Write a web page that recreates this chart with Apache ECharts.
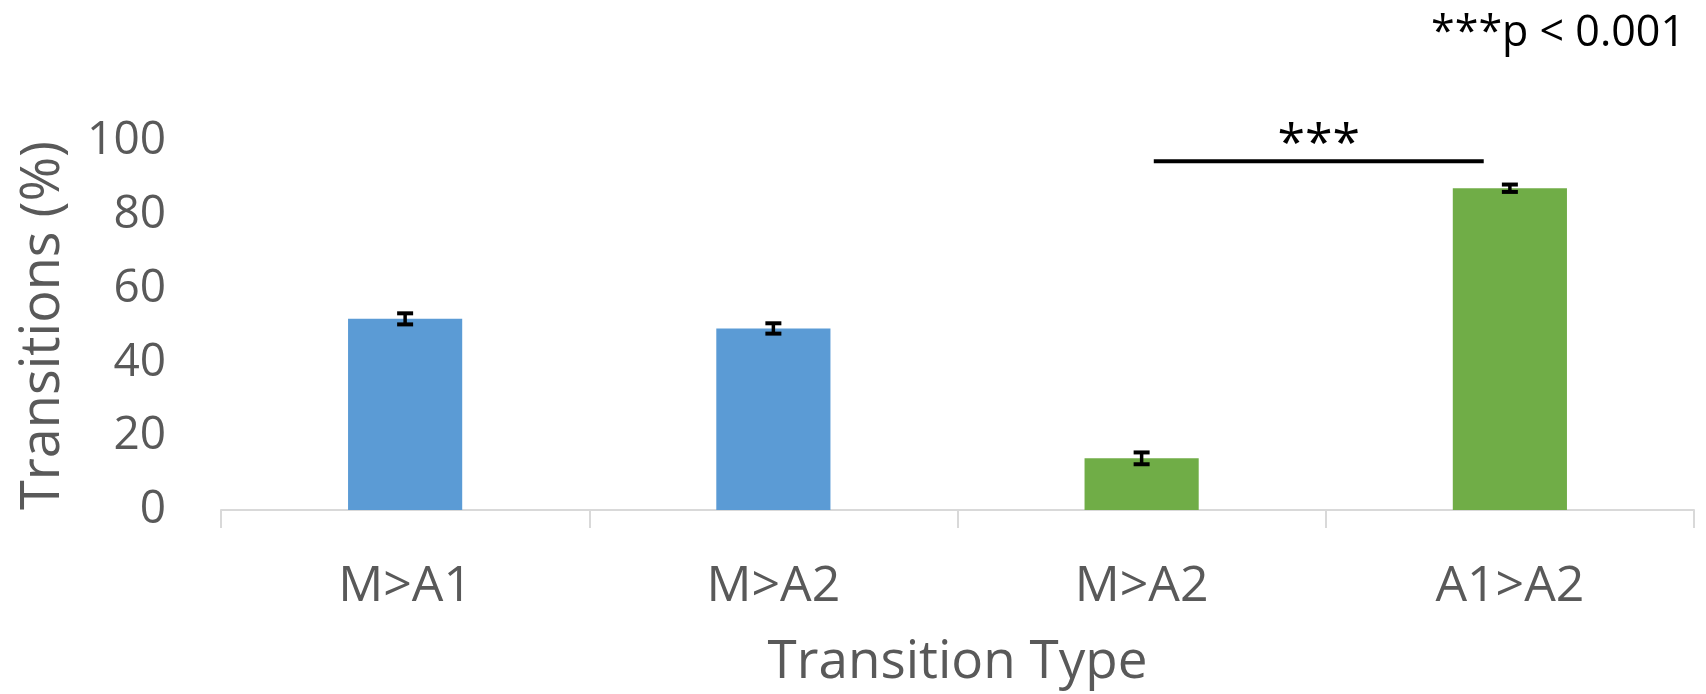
<!DOCTYPE html>
<html>
<head>
<meta charset="utf-8">
<script src="https://cdn.jsdelivr.net/npm/echarts@6/dist/echarts.min.js"></script>
<style>
html,body{margin:0;padding:0;background:#fff;}
#chart{width:1706px;height:694px;}
</style>
</head>
<body>
<div id="chart"></div>
<script>
// ---- data ----
const categories = ['M>A1', 'M>A2', 'M>A2', 'A1>A2'];
const values = [51.8, 49.2, 14.0, 87.2];
const errors = [1.5, 1.4, 1.6, 1.0];
const barColors = ['#5B9BD5', '#5B9BD5', '#70AD47', '#70AD47'];
const yTicks = [0, 20, 40, 60, 80, 100];
const sigFrom = 2, sigTo = 3, sigY = 94.5;
const sigLabel = '***';
const noteText = '***p < 0.001';

const FONT = 'Open Sans';
const chart = echarts.init(document.getElementById('chart'));

const errData = values.map((v, i) => [i, v, errors[i]]);

chart.setOption({
  animation: false,
  backgroundColor: '#fff',
  title: {
    text: noteText,
    right: 16,
    top: 7,
    textStyle: {fontFamily: FONT, fontSize: 43, fontWeight: 'normal', color: '#000'}
  },
  grid: {left: 221, right: 12, top: 141, bottom: 184, containLabel: false},
  xAxis: {
    type: 'category',
    data: categories,
    name: 'Transition Type',
    nameLocation: 'middle',
    nameGap: 126,
    nameTextStyle: {fontFamily: FONT, fontSize: 53, color: '#595959'},
    axisLine: {show: true, lineStyle: {color: '#d9d9d9', width: 2}},
    axisTick: {show: true, length: 18, lineStyle: {color: '#d9d9d9', width: 2}},
    axisLabel: {fontFamily: FONT, fontSize: 50, color: '#595959', margin: 52, interval: 0}
  },
  yAxis: {
    type: 'value',
    min: yTicks[0],
    max: yTicks[yTicks.length - 1],
    interval: 20,
    name: 'Transitions (%)',
    nameLocation: 'middle',
    nameGap: 150,
    nameRotate: 90,
    nameTextStyle: {fontFamily: FONT, fontSize: 54, color: '#595959'},
    axisLine: {show: false},
    axisTick: {show: false},
    splitLine: {show: false},
    axisLabel: {fontFamily: FONT, fontSize: 46, color: '#595959', margin: 55}
  },
  series: [
    {
      type: 'bar',
      barWidth: '31%',
      data: values.map((v, i) => ({value: v, itemStyle: {color: barColors[i]}})),
      z: 2
    },
    {
      type: 'custom',
      z: 5,
      data: errData,
      renderItem: function (params, api) {
        const x = api.value(0), v = api.value(1), e = api.value(2);
        const hi = api.coord([x, v + e]);
        const lo = api.coord([x, v - e]);
        const hw = 8;
        return {
          type: 'group',
          children: [
            {type: 'line', shape: {x1: hi[0], y1: hi[1], x2: lo[0], y2: lo[1]}, style: {stroke: '#000', lineWidth: 3.5}},
            {type: 'line', shape: {x1: hi[0] - hw, y1: hi[1], x2: hi[0] + hw, y2: hi[1]}, style: {stroke: '#000', lineWidth: 4}},
            {type: 'line', shape: {x1: lo[0] - hw, y1: lo[1], x2: lo[0] + hw, y2: lo[1]}, style: {stroke: '#000', lineWidth: 4}}
          ]
        };
      }
    },
    {
      type: 'custom',
      z: 6,
      data: [[sigFrom, sigTo, sigY]],
      renderItem: function (params, api) {
        const a = api.coord([api.value(0), api.value(2)]);
        const b = api.coord([api.value(1), api.value(2)]);
        const band = api.size([1, 0])[0];
        const x1 = a[0] + band * 0.033;
        const x2 = b[0] - band * 0.071;
        const mid = (x1 + x2) / 2;
        return {
          type: 'group',
          children: [
            {type: 'line', shape: {x1: x1, y1: a[1], x2: x2, y2: b[1]}, style: {stroke: '#000', lineWidth: 4}},
            {type: 'text', x: mid, y: a[1] + 9, style: {text: sigLabel, fontFamily: FONT, fontSize: 50, fill: '#000', align: 'center', verticalAlign: 'bottom'}}
          ]
        };
      }
    }
  ]
});
</script>
</body>
</html>
